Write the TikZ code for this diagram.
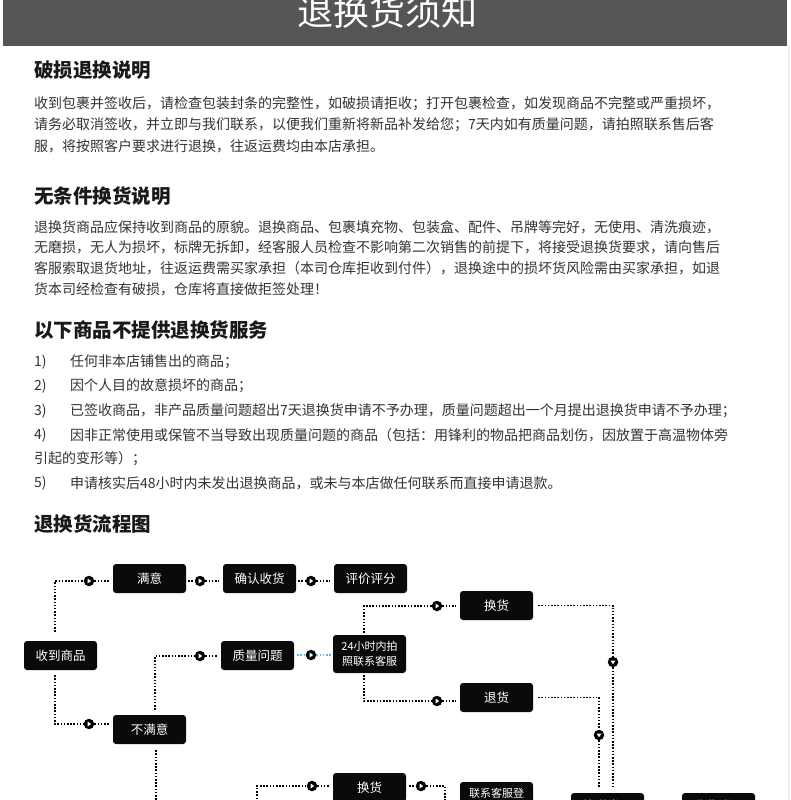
\documentclass[tikz,border=0pt]{standalone}
\usepackage{fontspec}
\setmainfont{Noto Sans CJK SC}
\usetikzlibrary{calc}
\definecolor{barc}{HTML}{555555}
\definecolor{bodyc}{HTML}{333333}
\definecolor{boxc}{HTML}{0A0A0A}
\definecolor{bluec}{HTML}{55B8E6}
\definecolor{edgec}{HTML}{EEEEEE}
\begin{document}
\begin{tikzpicture}[x=1pt,y=-1pt,
 heading/.style={anchor=west,inner sep=0pt,font=\fontsize{19.5}{20}\selectfont\bfseries,text=black!90},
 bodytxt/.style={anchor=west,inner sep=0pt,font=\fontsize{14}{15}\selectfont,text=bodyc},
 fbox/.style={fill=boxc,rounded corners=3pt,minimum width=73pt,minimum height=29pt,inner sep=0pt,text=white,font=\fontsize{12.5}{13}\selectfont},
 dl/.style={line width=1.5pt,dash pattern=on 1.5pt off 1.7pt},
 mk/.style={circle,fill=black,minimum size=10.5pt,inner sep=0pt,
   path picture={\fill[white] ($(path picture bounding box.center)+(-1.4pt,-2.5pt)$) -- ++(0,5pt) -- ++(3.6pt,-2.5pt) -- cycle;}},
 mkd/.style={circle,fill=black,minimum size=10.5pt,inner sep=0pt,
   path picture={\fill[white] ($(path picture bounding box.center)+(-2.5pt,1.4pt)$) -- ++(5pt,0) -- ++(-2.5pt,-3.6pt) -- cycle;}},
]
\useasboundingbox (0,0) rectangle (790,800);
\clip (0,0) rectangle (790,800);
\fill[white] (0,0) rectangle (790,800);
\fill[edgec] (787.5,46) rectangle (790,800);
% header
\fill[barc] (3,0) rectangle (787,46);
\node[anchor=base,inner sep=0pt,text=white,font=\fontsize{36}{36}\selectfont] (title) at (387,26) {退换货须知};

% section 1
\node[heading] (h1) at (34,70) {破损退换说明};
\node[bodytxt] (p1a) at (34,104) {收到包裹并签收后，请检查包装封条的完整性，如破损请拒收；打开包裹检查，如发现商品不完整或严重损坏，};
\node[bodytxt] (p1b) at (34,125) {请务必取消签收，并立即与我们联系，以便我们重新将新品补发给您；7天内如有质量问题，请拍照联系售后客};
\node[bodytxt] (p1c) at (34,146) {服，将按照客户要求进行退换，往返运费均由本店承担。};

% section 2
\node[heading] (h2) at (34,196) {无条件换货说明};
\node[bodytxt] (p2a) at (34,227) {退换货商品应保持收到商品的原貌。退换商品、包裹填充物、包装盒、配件、吊牌等完好，无使用、清洗痕迹，};
\node[bodytxt] (p2b) at (34,247) {无磨损，无人为损坏，标牌无拆卸，经客服人员检查不影响第二次销售的前提下，将接受退换货要求，请向售后};
\node[bodytxt] (p2c) at (34,268) {客服索取退货地址，往返运费需买家承担（本司仓库拒收到付件），退换途中的损坏货风险需由买家承担，如退};
\node[bodytxt] (p2d) at (34,289) {货本司经检查有破损，仓库将直接做拒签处理！};

% section 3
\node[heading] (h3) at (34,330) {以下商品不提供退换货服务};
\node[bodytxt] (n1) at (34,362) {1)};
\node[bodytxt] (l1) at (70,362) {任何非本店铺售出的商品；};
\node[bodytxt] (n2) at (34,386) {2)};
\node[bodytxt] (l2) at (70,386) {因个人目的故意损坏的商品；};
\node[bodytxt] (n3) at (34,411) {3)};
\node[bodytxt] (l3) at (70,411) {已签收商品，非产品质量问题超出7天退换货申请不予办理，质量问题超出一个月提出退换货申请不予办理；};
\node[bodytxt] (n4) at (34,435) {4)};
\node[bodytxt] (l4) at (70,435) {因非正常使用或保管不当导致出现质量问题的商品（包括：用锋利的物品把商品划伤，因放置于高温物体旁};
\node[bodytxt] (l4b) at (34,459) {引起的变形等）；};
\node[bodytxt] (n5) at (34,483) {5)};
\node[bodytxt] (l5) at (70,483) {申请核实后48小时内未发出退换商品，或未与本店做任何联系而直接申请退款。};

% section 4
\node[heading] (h4) at (34,524) {退换货流程图};

% flow boxes
\node[fbox] (recv) at (60.5,655.5) {收到商品};
\node[fbox] (my) at (149.5,578.5) {满意};
\node[fbox] (qr) at (259.5,578.5) {确认收货};
\node[fbox] (pj) at (370.5,578.5) {评价评分};
\node[fbox] (bmy) at (149.5,729.5) {不满意};
\node[fbox] (zl) at (257.5,655.5) {质量问题};
\node[fbox,minimum height=38pt,align=center,font=\fontsize{11}{14.5}\selectfont] (kf) at (369.5,654) {24小时内拍\\照联系客服};
\node[fbox] (hh1) at (496.5,605.5) {换货};
\node[fbox] (th) at (496.5,697.5) {退货};
\node[fbox] (hh2) at (369.5,787.5) {换货};
\node[fbox,minimum height=38pt,align=center,font=\fontsize{11}{14.5}\selectfont] (lx) at (496.5,801) {联系客服登\\记退换货地址};
\node[fbox] (kd) at (607.5,807.5) {\raisebox{4.5pt}{快递发回}};
\node[fbox] (sh) at (718.5,807.5) {\raisebox{4.5pt}{收货登记}};

% markers
\node[mk] (mk1) at (89,581) {};
\node[mk] (mk2) at (89,724) {};
\node[mk] (mk3) at (200,581) {};
\node[mk] (mk4) at (311,581) {};
\node[mk] (mk5) at (200,656) {};
\node[mk] (mk6) at (311,655) {};
\node[mk] (mk7) at (437,606) {};
\node[mk] (mk8) at (437,701) {};
\node[mkd] (mk9) at (613,662) {};
\node[mkd] (mk10) at (599,735) {};
\node[mk] (mk11) at (312,786) {};
\node[mk] (mk12) at (421,786) {};
\coordinate (bmyend) at (156,815);
\coordinate (hh2in) at (257,815);
\coordinate (hh2out) at (445,815);

% connectors
\draw[dl,shorten <=9pt] ([xshift=-5.5pt]recv.north) |- (mk1);
\draw[dl,shorten >=4pt] (mk1) -- (mk1 -| my.west);
\draw[dl,shorten <=5pt] ([xshift=-5.5pt]recv.south) |- (mk2);
\draw[dl,shorten >=4pt] (mk2) -- (mk2 -| bmy.west);
\draw[dl,shorten <=2pt] (my.east |- mk3) -- (mk3);
\draw[dl,shorten >=4pt] (mk3) -- (mk3 -| qr.west);
\draw[dl,shorten <=2pt] (qr.east |- mk4) -- (mk4);
\draw[dl,shorten >=4pt] (mk4) -- (mk4 -| pj.west);
\draw[dl,shorten <=5pt] ([xshift=5.5pt]bmy.north) |- (mk5);
\draw[dl,shorten >=4pt] (mk5) -- (mk5 -| zl.west);
\draw[dl,bluec,shorten <=3pt] (zl.east |- mk6) -- (mk6);
\draw[dl,bluec,shorten >=2pt] (mk6) -- (mk6 -| kf.west);
\draw[dl,shorten <=2pt] ([xshift=-5.5pt]kf.north) |- (mk7);
\draw[dl,shorten >=4pt] (mk7) -- (mk7 -| hh1.west);
\draw[dl,shorten <=2pt] ([xshift=-5.5pt]kf.south) |- (mk8);
\draw[dl,shorten >=4pt] (mk8) -- (mk8 -| th.west);
\draw[dl,shorten <=5pt] (hh1.east) -| (mk9);
\draw[dl,shorten >=6pt] (mk9) -- (mk9 |- kd.north);
\draw[dl,shorten <=5pt] (th.east) -| (mk10);
\draw[dl,shorten >=6pt] (mk10) -- (mk10 |- kd.north);
\draw[dl,shorten <=6pt] ([xshift=6.5pt]bmy.south) -- (bmyend);
\draw[dl] (hh2in) |- (mk11);
\draw[dl,shorten >=4pt] (mk11) -- (mk11 -| hh2.west);
\draw[dl,shorten <=3pt] (hh2.east |- mk12) -- (mk12);
\draw[dl] (mk12) -| (hh2out);
\end{tikzpicture}
\end{document}
